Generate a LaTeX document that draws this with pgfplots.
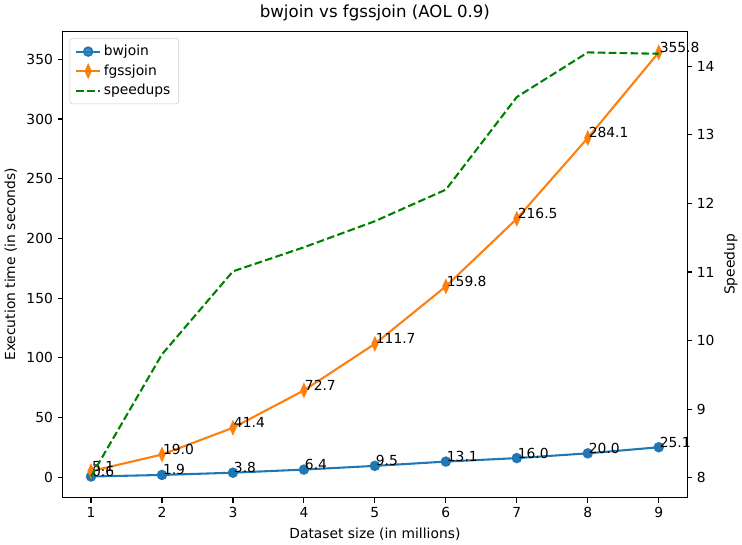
\documentclass[border=0pt]{standalone}
\usepackage{pgfplots}
\pgfplotsset{compat=1.18}
\usepackage{fontspec}
\setmainfont{DejaVu Sans}
\definecolor{mplblue}{HTML}{1F77B4}
\definecolor{mplorange}{HTML}{FF7F0E}
\definecolor{mplgreen}{HTML}{008000}

\pgfplotsset{
  every axis/.append style={
    width=451pt, height=337pt, scale only axis,
    font=\fontsize{10}{12}\selectfont,
    xmin=0.6, xmax=9.4,
    axis line style={line width=0.8pt},
    tick align=outside, major tick length=3.5pt,
    every tick/.style={black, line width=0.8pt},
    /pgf/number format/assume math mode=true,
  },
}

\begin{document}
\begin{tikzpicture}
\begin{axis}[
    ymin=-17.2, ymax=373.6,
    xtick={1,2,3,4,5,6,7,8,9},
    ytick={0,50,100,150,200,250,300,350},
    xtick pos=bottom, ytick pos=left,
    xlabel={Dataset size (in millions)},
    ylabel={Execution time (in seconds)},
    title={bwjoin vs fgssjoin (AOL 0.9)},
    title style={font=\fontsize{12}{14}\selectfont, yshift=-2pt},
    legend pos=north west,
    legend style={at={(0.011,0.985)}, anchor=north west,
      draw=black!20, rounded corners=2pt, fill=white, fill opacity=0.8,
      text opacity=1, font=\fontsize{10}{12}\selectfont,
      row sep=1pt, inner xsep=4pt, inner ysep=3pt},
    legend cell align=left,
    legend image post style={},
    nodes near coords,
    point meta=explicit,
    every node near coord/.style={anchor=base west, inner sep=0pt, black,
      font=\fontsize{10}{12}\selectfont,
      /pgf/number format/.cd, fixed, fixed zerofill, precision=1},
]
\addplot[mplblue, line width=1.5pt, mark=*, mark size=3pt,
  mark options={fill=mplblue, draw=mplblue}] coordinates {
  (1,0.6) [0.6] (2,1.9) [1.9] (3,3.8) [3.8] (4,6.4) [6.4] (5,9.5) [9.5]
  (6,13.1) [13.1] (7,16.0) [16.0] (8,20.0) [20.0] (9,25.1) [25.1]
};
\addlegendentry{bwjoin}
\addplot[mplorange, line width=1.5pt, mark=diamond*, mark size=4pt,
  mark options={fill=mplorange, draw=mplorange, xscale=0.6}] coordinates {
  (1,5.1) [5.1] (2,19.0) [19.0] (3,41.4) [41.4] (4,72.7) [72.7] (5,111.7) [111.7]
  (6,159.8) [159.8] (7,216.5) [216.5] (8,284.1) [284.1] (9,355.8) [355.8]
};
\addlegendentry{fgssjoin}
\addlegendimage{mplgreen, line width=1.5pt, dash pattern=on 5.5pt off 2.4pt}
\addlegendentry{speedups}
\end{axis}
\begin{axis}[
    ymin=7.71, ymax=14.51,
    axis x line=none,
    axis y line*=right,
    ytick={8,9,10,11,12,13,14},
    ylabel={Speedup},
]
\addplot[mplgreen, line width=1.5pt, dash pattern=on 5.5pt off 2.4pt] coordinates {
  (1,8.02) (2,9.80) (3,11.01) (4,11.36) (5,11.74)
  (6,12.20) (7,13.55) (8,14.20) (9,14.18)
};
\end{axis}
\end{tikzpicture}
\end{document}
